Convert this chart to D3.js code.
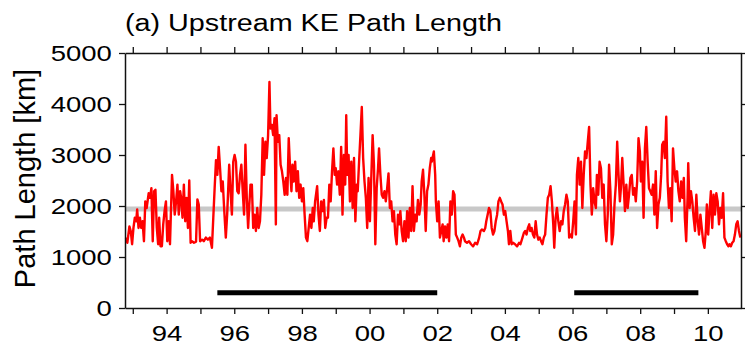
<!DOCTYPE html>
<html>
<head>
<meta charset="utf-8">
<script src="https://cdn.jsdelivr.net/npm/d3@7"></script>
<style>
  html, body { margin: 0; padding: 0; background: #fff; }
  svg { display: block; font-family: "Liberation Sans", Arial, Helvetica, sans-serif; }
</style>
</head>
<body>
<svg id="chart" width="745" height="350"></svg>
<script>
// Upstream Kuroshio Extension path length (km), decimal year vs. length
const years = [
  1992.80,1992.84,1992.90,1992.94,1992.98,1993.02,1993.06,1993.10,1993.13,1993.17,
  1993.21,1993.25,1993.29,1993.33,1993.37,1993.41,1993.47,1993.51,1993.55,1993.59,
  1993.63,1993.67,1993.71,1993.75,1993.78,1993.82,1993.86,1993.90,1993.94,1993.98,
  1994.02,1994.06,1994.10,1994.16,1994.20,1994.24,1994.28,1994.32,1994.36,1994.40,
  1994.43,1994.47,1994.51,1994.55,1994.59,1994.63,1994.67,1994.71,1994.75,1994.81,
  1994.87,1994.91,1994.95,1994.99,1995.05,1995.10,1995.16,1995.22,1995.28,1995.34,
  1995.38,1995.42,1995.46,1995.50,1995.54,1995.58,1995.62,1995.66,
  1995.70,1995.75,1995.79,1995.85,1995.89,1995.93,1995.97,1996.01,1996.05,1996.09,
  1996.13,1996.17,1996.21,1996.25,1996.29,1996.33,1996.37,1996.41,1996.44,1996.48,
  1996.52,1996.56,1996.60,1996.64,1996.68,1996.72,1996.76,1996.80,1996.84,1996.88,
  1996.92,1996.96,1997.00,1997.04,1997.07,1997.11,1997.15,1997.19,1997.23,1997.25,
  1997.29,1997.33,1997.37,1997.41,1997.45,1997.49,1997.53,1997.57,1997.61,1997.65,
  1997.69,1997.72,1997.76,1997.80,1997.84,1997.88,1997.92,1997.96,1998.00,1998.04,
  1998.08,1998.12,1998.16,1998.20,1998.24,1998.28,1998.32,1998.35,1998.39,1998.45,
  1998.49,1998.53,1998.57,1998.61,1998.65,1998.69,1998.73,
  1998.77,1998.81,1998.85,1998.89,1998.93,1998.97,1999.00,1999.04,1999.08,1999.12,
  1999.16,1999.20,1999.24,1999.28,1999.31,1999.34,1999.38,1999.42,1999.46,1999.50,
  1999.54,1999.58,1999.62,1999.65,1999.69,1999.73,1999.77,1999.81,1999.85,1999.89,
  1999.93,1999.97,2000.01,2000.05,2000.09,2000.13,2000.17,2000.21,2000.25,2000.28,
  2000.32,2000.36,2000.40,2000.44,2000.48,2000.52,2000.56,2000.60,2000.64,2000.68,
  2000.72,2000.76,2000.80,2000.84,2000.88,2000.91,2000.95,2000.99,2001.03,2001.07,
  2001.11,2001.15,2001.19,2001.23,2001.27,2001.31,2001.35,2001.39,2001.43,2001.47,
  2001.51,2001.54,2001.58,2001.62,2001.66,2001.70,2001.74,2001.78,2001.82,
  2001.84,2001.90,2001.94,2001.96,2002.00,2002.04,2002.08,2002.12,2002.16,2002.19,
  2002.23,2002.27,2002.31,2002.35,2002.39,2002.43,2002.47,2002.51,2002.55,2002.59,
  2002.63,2002.67,2002.71,2002.75,2002.79,2002.82,2002.88,2002.94,2003.00,2003.06,
  2003.12,2003.18,2003.24,2003.28,2003.32,2003.38,2003.42,2003.45,2003.49,2003.53,
  2003.57,2003.61,2003.65,2003.69,2003.73,2003.77,2003.81,2003.85,2003.89,2003.93,
  2003.97,2004.01,2004.05,2004.09,2004.12,2004.16,2004.20,2004.24,2004.30,2004.36,
  2004.42,2004.46,2004.52,2004.56,2004.60,2004.64,2004.68,2004.72,2004.75,2004.79,
  2004.83,2004.87,
  2004.91,2004.95,2004.99,2005.03,2005.07,2005.11,2005.15,2005.19,2005.23,2005.27,
  2005.31,2005.35,2005.39,2005.43,2005.46,2005.50,2005.54,2005.58,2005.62,2005.66,
  2005.70,2005.74,2005.78,2005.82,2005.86,2005.90,2005.94,2005.98,2006.02,2006.06,
  2006.10,2006.13,2006.17,2006.21,2006.25,2006.29,2006.33,2006.37,2006.41,2006.45,
  2006.49,2006.53,2006.57,2006.61,2006.65,2006.69,2006.72,2006.76,2006.80,2006.84,
  2006.88,2006.92,2006.96,2007.00,2007.04,2007.08,2007.12,2007.16,2007.20,2007.24,
  2007.28,2007.32,2007.36,2007.40,2007.43,2007.47,2007.51,2007.55,2007.59,2007.63,
  2007.67,2007.71,2007.75,2007.79,2007.83,2007.87,2007.91,2007.95,
  2007.99,2008.02,2008.06,2008.10,2008.14,2008.18,2008.22,2008.26,2008.30,2008.34,
  2008.38,2008.42,2008.46,2008.50,2008.54,2008.58,2008.62,2008.65,2008.69,2008.73,
  2008.77,2008.81,2008.85,2008.89,2008.93,2008.97,2009.01,2009.05,2009.09,2009.13,
  2009.17,2009.21,2009.25,2009.29,2009.32,2009.36,2009.40,2009.42,2009.46,2009.50,
  2009.54,2009.58,2009.62,2009.66,2009.70,2009.74,2009.78,2009.82,2009.86,2009.90,
  2009.94,2009.97,2010.01,2010.05,2010.09,2010.13,2010.17,2010.21,2010.25,2010.29,
  2010.33,2010.37,2010.41,2010.45,2010.49,2010.53,2010.57,2010.61,2010.64,2010.68,
  2010.72,2010.76,2010.80,2010.84,2010.88,2010.92,2010.96
];
const pathLength = [
  1380,1280,1600,1510,1250,1570,1770,1700,1930,1570,
  1770,1570,1700,1310,2090,1960,2250,2160,2350,1310,
  2290,2320,1570,1250,1770,1210,1210,1640,1900,2090,
  1310,1700,1250,2610,2290,1830,2090,2420,1830,2290,
  2160,1770,2420,1700,2160,1570,2500,1280,1310,1280,
  1300,2130,2030,1310,1340,1310,1380,1340,1380,1180,
  1770,2350,2900,2610,3160,2740,2290,2480,
  1960,1380,1830,2810,2290,1830,2870,3000,2870,2290,
  2250,2610,2810,2290,1830,3200,2160,1570,1960,2420,
  2420,1570,1830,1510,1960,1570,1700,2220,3330,2610,
  3260,2940,3390,4430,3520,3590,3390,3720,1640,3780,
  3260,3390,2810,2680,2480,2220,2550,2220,3330,2740,
  2290,2810,2480,2870,2290,2680,2160,2420,2090,2350,
  1830,1380,1310,1570,1830,1570,1960,1700,2090,2390,
  1830,1510,2090,1900,2120,1570,1770,
  1770,2420,2090,2680,3130,2610,2740,2420,2680,2220,
  3160,1830,3000,2420,3780,2610,3000,2090,2870,1960,
  2940,1700,2420,2290,2870,3390,3940,2940,2480,2160,
  1570,2550,1700,2550,3390,2810,1250,2350,2740,3130,
  2610,2220,2160,2290,2090,2350,2640,1960,2090,1700,
  1900,1440,1250,1830,1640,1900,1510,1310,1700,1310,
  1900,1380,1960,1510,2390,1510,1830,1700,2120,1830,
  2030,2480,2710,2220,1510,2290,2420,2740,2940,
  2870,3070,2610,2090,1700,2090,1380,1510,1640,1310,
  1600,1380,1640,1310,2090,1830,2290,2220,1440,1380,
  1310,1210,1380,1440,1380,1310,1280,1310,1250,1210,
  1280,1250,1380,1510,1540,1510,1570,1700,1830,1960,
  1900,1570,1440,1510,1700,1830,2090,2160,2090,2030,
  1830,1900,1700,1510,1250,1510,1250,1280,1250,1210,
  1280,1250,1380,1470,1510,1440,1570,1640,1510,1570,
  1440,1380,
  1700,1440,1340,1380,1310,1250,1380,1440,1830,2160,
  2220,2390,2090,1640,1180,1770,1960,1700,1510,1700,
  1640,1900,2030,2220,2090,1380,1440,1380,1700,2090,
  1440,2610,2940,2420,2870,1960,2610,3070,2940,3260,
  3550,2420,1830,2350,2090,1960,2610,2220,2870,2740,
  2160,2420,1640,1310,1830,2810,2290,1250,1440,2030,
  2420,3260,2610,2090,2350,2940,2420,1900,2420,1960,
  2220,2550,2610,2220,2350,2090,2480,3330,
  3070,2480,2870,1770,3130,3550,2870,2350,2290,2220,
  2420,1830,2680,1570,2030,2160,2610,3200,3260,2940,
  3750,2480,1960,2350,1700,3130,2740,2480,2680,2290,
  2090,2480,2160,2550,1770,1310,2160,2840,1960,2290,
  2090,1770,1510,2220,1700,1440,1830,1570,1310,1180,
  1510,2030,1440,1900,2290,1570,2220,1830,2250,2090,
  1640,1960,1770,2250,1380,1310,1250,1210,1250,1210,
  1280,1310,1440,1640,1700,1510,1380
];

// Long-term mean path length (grey reference line)
const meanLength = [1940];

// Periods marked with black bars below the series
const barStart = [1995.5, 2006.05];
const barEnd = [2002.0, 2009.72];
const barLevel = [300, 300];

// Axis ticks
const yearTicks = d3.range(1993, 2011);
const yearLabels = ["94", "96", "98", "00", "02", "04", "06", "08", "10"];
const labelledYears = [1994, 1996, 1998, 2000, 2002, 2004, 2006, 2008, 2010];
const lengthTicks = [0, 1000, 2000, 3000, 4000, 5000];

const titleText = "(a) Upstream KE Path Length";
const yTitleText = "Path Length [km]";

const svg = d3.select("#chart");
const plotLeft = 125, plotRight = 741, plotTop = 53, plotBottom = 308;
const stretch = 1.25;

const x = d3.scaleLinear().domain([1992.77, 2010.98]).range([plotLeft, plotRight]);
const y = d3.scaleLinear().domain([0, 5000]).range([plotBottom, plotTop]);

// mean line
svg.append("g").selectAll("line").data(meanLength).join("line")
  .attr("x1", plotLeft).attr("x2", plotRight)
  .attr("y1", d => y(d)).attr("y2", d => y(d))
  .attr("stroke", "#c8c8c8").attr("stroke-width", 5);

// series
const line = d3.line().x((d, i) => x(years[i])).y(d => y(d));
svg.append("path")
  .datum(pathLength)
  .attr("d", line)
  .attr("fill", "none")
  .attr("stroke", "#ff0000")
  .attr("stroke-width", 2.4)
  .attr("stroke-linejoin", "round");

// period bars
svg.append("g").selectAll("line").data(barStart).join("line")
  .attr("x1", d => x(d)).attr("x2", (d, i) => x(barEnd[i]))
  .attr("y1", (d, i) => y(barLevel[i])).attr("y2", (d, i) => y(barLevel[i]))
  .attr("stroke", "#000").attr("stroke-width", 5);

const labelFor = d3.scaleOrdinal().domain(labelledYears).range(yearLabels).unknown("");

function styleAxis(g) {
  g.selectAll(".domain").attr("stroke", "#111").attr("stroke-width", 1.5);
  g.selectAll(".tick line").attr("stroke", "#111").attr("stroke-width", 1.3);
  g.selectAll("text").attr("fill", "#000").attr("font-size", 22)
    .attr("font-family", "'Liberation Sans', Arial, sans-serif");
}

// bottom axis
svg.append("g").attr("transform", `translate(0,${plotBottom})`)
  .call(d3.axisBottom(x).tickValues(yearTicks).tickSize(6).tickSizeOuter(0)
    .tickPadding(11).tickFormat(d => labelFor(d)))
  .call(styleAxis)
  .call(g => g.selectAll("text").attr("transform", `scale(${stretch},1)`));

// top axis
svg.append("g").attr("transform", `translate(0,${plotTop})`)
  .call(d3.axisTop(x).tickValues(yearTicks).tickSize(6).tickSizeOuter(0).tickFormat(""))
  .call(styleAxis);

// left axis
svg.append("g").attr("transform", `translate(${plotLeft},0)`)
  .call(d3.axisLeft(y).tickValues(lengthTicks).tickSize(6).tickSizeOuter(0)
    .tickPadding(4.5).tickFormat(d3.format("d")))
  .call(styleAxis)
  .call(g => g.selectAll("text").attr("transform", `scale(${stretch},1)`));

// right axis
svg.append("g").attr("transform", `translate(${plotRight},0)`)
  .call(d3.axisRight(y).tickValues(lengthTicks).tickSize(6).tickSizeOuter(0).tickFormat(""))
  .call(styleAxis);

// title
svg.append("text")
  .attr("transform", `translate(${plotLeft},31) scale(${stretch},1)`)
  .attr("font-size", 23)
  .attr("fill", "#000")
  .text(titleText);

// y-axis title
svg.append("text")
  .attr("transform", `translate(35,${(plotTop + plotBottom) / 2 - 2}) rotate(-90)`)
  .attr("text-anchor", "middle")
  .attr("font-size", 29)
  .attr("fill", "#000")
  .text(yTitleText);
</script>
</body>
</html>
